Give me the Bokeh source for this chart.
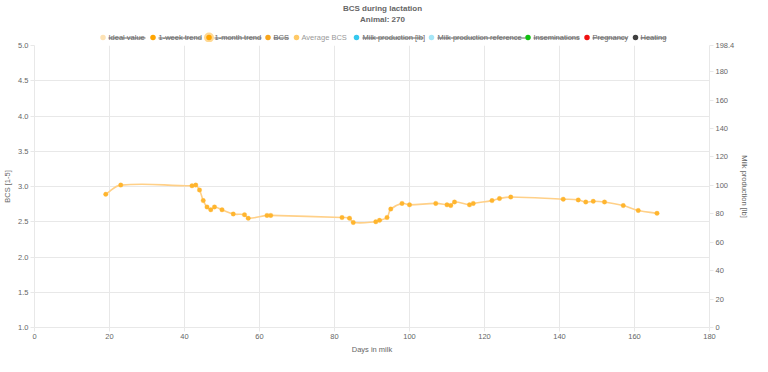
from bokeh.plotting import figure
from bokeh.models import Range1d, LinearAxis, FixedTicker, NumeralTickFormatter, ColumnDataSource
from bokeh.layouts import column
from bokeh.core.properties import value
from bokeh.embed import file_html
from bokeh.resources import INLINE

# ---------------- data ----------------
days = [19, 23, 42, 43, 44, 45, 46, 47, 48, 50, 53, 56, 57, 62, 63, 82, 84, 85, 91, 92,
        94, 95, 98, 100, 107, 110, 111, 112, 116, 117, 122, 124, 127, 141, 145, 147, 149,
        152, 157, 161, 166]
bcs = [2.89, 3.02, 3.01, 3.02, 2.95, 2.80, 2.71, 2.67, 2.71, 2.67, 2.61, 2.60, 2.55, 2.59,
       2.59, 2.56, 2.55, 2.49, 2.50, 2.52, 2.56, 2.68, 2.76, 2.74, 2.76, 2.74, 2.73, 2.78,
       2.74, 2.76, 2.80, 2.83, 2.85, 2.82, 2.81, 2.78, 2.79, 2.78, 2.73, 2.66, 2.62]

x_ticks = [0, 20, 40, 60, 80, 100, 120, 140, 160, 180]
bcs_ticks = [1.0, 1.5, 2.0, 2.5, 3.0, 3.5, 4.0, 4.5, 5.0]
milk_ticks = [0, 20, 40, 60, 80, 100, 120, 140, 160, 180, 198.4]
milk_max = 198.4

legend_labels = ["Ideal value", "1-week trend", "1-month trend", "BCS", "Average BCS",
                 "Milk production [lb]", "Milk production reference", "Inseminations",
                 "Pregnancy", "Heating"]
legend_hidden = [True, True, True, True, False, True, True, True, True, True]

# ---------------- styles / layout ----------------
legend_colors = ["#fde2b4", "#ffa500", "#ffa500", "#f7a51c", "#ffc966",
                 "#36c8ee", "#a6e6f7", "#10c010", "#f01010", "#404040"]
legend_dot_sizes = [5.5, 5.5, 5.5, 5.5, 5.5, 5.5, 5.5, 5.5, 5.5, 5.5]
legend_dot_x = [102.5, 152.5, 208.5, 267.5, 296, 356, 431, 527.5, 586.5, 635]
legend_text_x0 = [108, 158, 214, 273, 301, 362, 437, 533, 592, 640]
legend_text_x1 = [145, 201, 261, 288, 347, 423, 525, 579, 627, 666]

FONT = "Liberation Sans"
TXT = "#666666"
GRID = "#e8e8e8"
W = 752
HEAD_H = 42
MAIN_H = 314

# ---------------- header (title + legend) ----------------
h = figure(width=W, height=HEAD_H, x_range=Range1d(0, W), y_range=Range1d(HEAD_H, 0),
           toolbar_location=None, output_backend="svg", min_border=0)
h.frame_align = False
h.axis.visible = False
h.grid.visible = False
h.outline_line_color = None

h.text(x=[382, 382], y=[7.5, 18.5], text=["BCS during lactation", "Animal: 270"],
       text_font=value(FONT), text_font_size=value("8px"), text_font_style="bold",
       text_color=TXT, text_align="center", text_baseline="middle")

ly = 37
n = len(legend_labels)
# 1-month trend halo
h.scatter(x=[legend_dot_x[2]], y=[ly], size=10, fill_color="#ffc966", fill_alpha=0.7,
          line_color=None)
h.scatter(x=legend_dot_x, y=[ly] * n, size=legend_dot_sizes, fill_color=legend_colors,
          line_color=None)
text_cols = ["#666666" if hid else "#999999" for hid in legend_hidden]
h.text(x=legend_text_x0, y=[ly] * n, text=legend_labels, text_font=value(FONT),
       text_font_size=value("7.5px"), text_color=text_cols, text_align="left",
       text_baseline="middle")
sx0 = [a for a, hid in zip(legend_text_x0, legend_hidden) if hid]
sx1 = [b for b, hid in zip(legend_text_x1, legend_hidden) if hid]
h.segment(x0=sx0, y0=[ly + 0.5] * len(sx0), x1=sx1, y1=[ly + 0.5] * len(sx0),
          line_color="#666666", line_width=1)

# ---------------- main chart ----------------
p = figure(width=W, height=MAIN_H, x_range=Range1d(0, 180), y_range=Range1d(1, 5),
           toolbar_location=None, output_backend="svg",
           min_border_left=27, min_border_right=0, min_border_top=3, min_border_bottom=0)
p.frame_align = False
p.outline_line_color = None
p.extra_y_ranges = {"milk": Range1d(0, milk_max)}

# smooth curve (Chart.js-like spline, tension 0.4) via bezier glyph
px_per_day = 3.83
px_per_bcs = 71.8
t = 0.4
cx_prev, cy_prev, cx_next, cy_next = [], [], [], []
for i in range(len(days)):
    x0 = days[i - 1] if i > 0 else days[i]
    y0 = bcs[i - 1] if i > 0 else bcs[i]
    x2 = days[i + 1] if i < len(days) - 1 else days[i]
    y2 = bcs[i + 1] if i < len(days) - 1 else bcs[i]
    d01 = (((days[i] - x0) * px_per_day) ** 2 + ((bcs[i] - y0) * px_per_bcs) ** 2) ** 0.5
    d12 = (((x2 - days[i]) * px_per_day) ** 2 + ((y2 - bcs[i]) * px_per_bcs) ** 2) ** 0.5
    s = d01 + d12
    s01 = d01 / s if s else 0
    s12 = d12 / s if s else 0
    fa, fb = t * s01, t * s12
    cx_prev.append(days[i] - fa * (x2 - x0))
    cy_prev.append(bcs[i] - fa * (y2 - y0))
    cx_next.append(days[i] + fb * (x2 - x0))
    cy_next.append(bcs[i] + fb * (y2 - y0))

bz = ColumnDataSource(dict(x0=days[:-1], y0=bcs[:-1], x1=days[1:], y1=bcs[1:],
                           cx0=cx_next[:-1], cy0=cy_next[:-1], cx1=cx_prev[1:], cy1=cy_prev[1:]))
p.bezier(x0="x0", y0="y0", x1="x1", y1="y1", cx0="cx0", cy0="cy0", cx1="cx1", cy1="cy1",
         source=bz, line_color="#ffd088", line_width=1.6)
p.scatter(x=days, y=bcs, size=4.5, fill_color="#ffb52e", line_color="#ffb52e", line_width=0.3)

# axes
def style_axis(ax, lab_standoff):
    ax.axis_line_color = GRID
    ax.major_tick_line_color = GRID
    ax.major_tick_out = 4
    ax.major_tick_in = 0
    ax.minor_tick_line_color = None
    ax.major_label_text_font = FONT
    ax.major_label_text_font_size = "7.5px"
    ax.major_label_text_color = TXT
    ax.major_label_standoff = 2
    ax.axis_label_text_font = FONT
    ax.axis_label_text_font_size = "7.5px"
    ax.axis_label_text_font_style = "normal"
    ax.axis_label_text_color = TXT
    ax.axis_label_standoff = lab_standoff

style_axis(p.xaxis[0], 3)
style_axis(p.yaxis[0], 3)
p.xaxis.ticker = FixedTicker(ticks=x_ticks)
p.yaxis.ticker = FixedTicker(ticks=bcs_ticks)
p.yaxis.formatter = NumeralTickFormatter(format="0.0")
p.xaxis.axis_label = "Days in milk"
p.yaxis.axis_label = "BCS [1-5]"

ra = LinearAxis(y_range_name="milk", ticker=FixedTicker(ticks=milk_ticks),
                axis_label="Milk production [lb]")
style_axis(ra, 3)
p.add_layout(ra, "right")

p.xgrid.ticker = FixedTicker(ticks=x_ticks)
p.ygrid.ticker = FixedTicker(ticks=bcs_ticks)
p.grid.grid_line_color = GRID
p.grid.grid_line_width = 1

layout = column(h, p, spacing=0)
open("out.html", "w").write(file_html(layout, INLINE))
